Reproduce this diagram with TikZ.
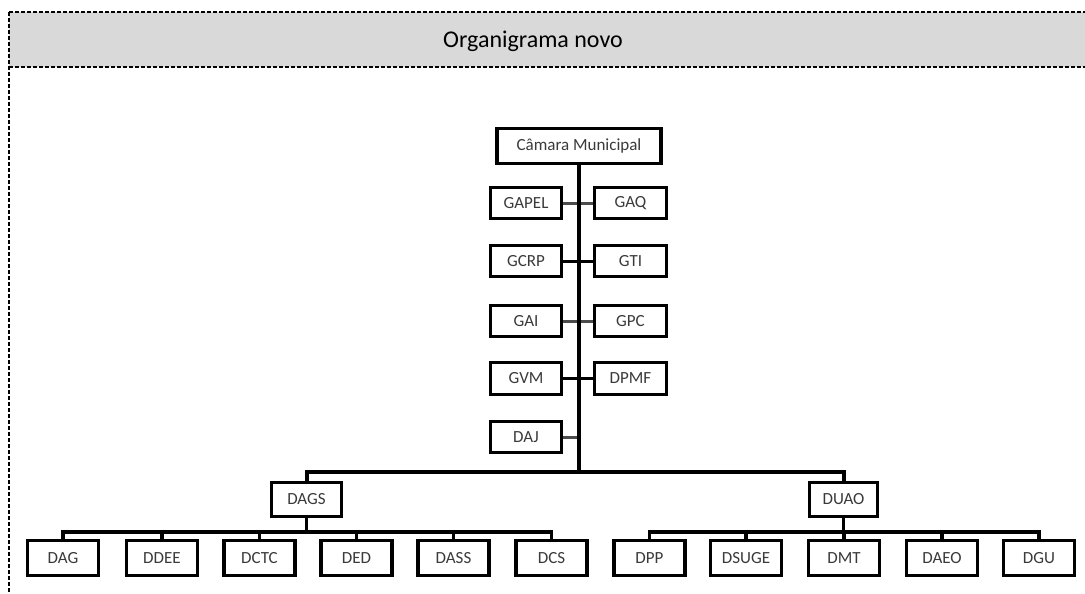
\documentclass[tikz,border=0pt]{standalone}
\usepackage{fontspec}
\setmainfont{Carlito}
\definecolor{headgray}{HTML}{D9D9D9}
\definecolor{labelgray}{HTML}{3A3A3A}
\begin{document}
\begin{tikzpicture}[x=1pt,y=-1pt,
  unit/.style={draw=black, line width=3.2pt, fill=white, inner sep=0pt,
    text=labelgray, font=\fontsize{17}{17}\selectfont},
  side/.style={unit, minimum height=31.5pt},
  child/.style={unit, minimum width=71pt, minimum height=34.5pt},
  link/.style={line width=3.3pt, black},
  bus/.style={line width=4pt, black},
  softlink/.style={line width=3pt, black!70},
  hardlink/.style={line width=3pt, black},
  frame/.style={line width=1.6pt, dash pattern=on 4pt off 2pt}]
\useasboundingbox (0,0) rectangle (1085,594);

% header band and dashed frame
\fill[headgray] (9,12) rectangle (1085,67);
\draw[frame] (9,12) -- (1085,12);
\draw[frame] (9,67) -- (1085,67);
\draw[frame] (9,12) -- (9,594);
\node[anchor=base, inner sep=0pt, font=\fontsize{24}{24}\selectfont] (title) at (533,48) {Organigrama novo};

% top of the chart
\node[unit, minimum width=164pt, minimum height=34.5pt] (cam) at (579,146) {Câmara Municipal};

% staff units on both sides of the trunk
\node[side, minimum width=70.5pt] (gapel) at (526,203) {GAPEL};
\node[side, minimum width=71.5pt] (gaq)   at (630.5,203) {GAQ};
\node[side, minimum width=70.5pt] (gcrp)  at (526,261) {GCRP};
\node[side, minimum width=71.5pt] (gti)   at (630.5,261) {GTI};
\node[side, minimum width=70.5pt] (gai)   at (526,321) {GAI};
\node[side, minimum width=71.5pt] (gpc)   at (630.5,321) {GPC};
\node[side, minimum width=70.5pt] (gvm)   at (526,378.5) {GVM};
\node[side, minimum width=71.5pt] (dpmf)  at (630.5,378.5) {DPMF};
\node[side, minimum width=70.5pt] (daj)   at (526,437) {DAJ};

% departments
\node[unit, minimum width=69.5pt, minimum height=34pt] (dags) at (306.5,499.5) {DAGS};
\node[unit, minimum width=67.5pt, minimum height=34pt] (duao) at (843.5,499.5) {DUAO};

% divisions under DAGS
\node[child] (dag)  at (63,558)    {DAG};
\node[child] (ddee) at (162,558)   {DDEE};
\node[child] (dctc) at (259.5,558) {DCTC};
\node[child] (ded)  at (356.5,558) {DED};
\node[child] (dass) at (453.5,558) {DASS};
\node[child] (dcs)  at (551.5,558) {DCS};

% divisions under DUAO
\node[child] (dpp)   at (649.5,558) {DPP};
\node[child] (dsuge) at (746,558)   {DSUGE};
\node[child] (dmt)   at (844,558)   {DMT};
\node[child] (daeo)  at (942,558)   {DAEO};
\node[child] (dgu)   at (1039,558)  {DGU};

% junction points of the buses
\coordinate (hub) at (579,472);
\coordinate (dagsbus) at (306.5,532);
\coordinate (duaobus) at (843.5,532);

% trunk and main bus
\draw[link] (cam.south) -- (hub);
\draw[bus] (dags.north) |- (hub) -| (duao.north);

% side connectors
\draw[softlink] (gapel.east) -- (gaq.west);
\draw[hardlink] (gcrp.east) -- (gti.west);
\draw[softlink] (gai.east) -- (gpc.west);
\draw[hardlink] (gvm.east) -- (dpmf.west);
\draw[softlink] (daj.east) -- (daj.east -| cam.south);
\draw[link] (cam.south) -- (hub);

% sub-buses
\draw[link] (dags.south) -- (dagsbus);
\draw[link] (dag.north) |- (dagsbus) -| (dcs.north);
\foreach \n in {ddee,dctc,ded,dass}
  \draw[link] (\n.north) -- (\n.north |- dagsbus);
\draw[link] (duao.south) -- (duaobus);
\draw[link] (dpp.north) |- (duaobus) -| (dgu.north);
\foreach \n in {dsuge,dmt,daeo}
  \draw[link] (\n.north) -- (\n.north |- duaobus);
\end{tikzpicture}
\end{document}
